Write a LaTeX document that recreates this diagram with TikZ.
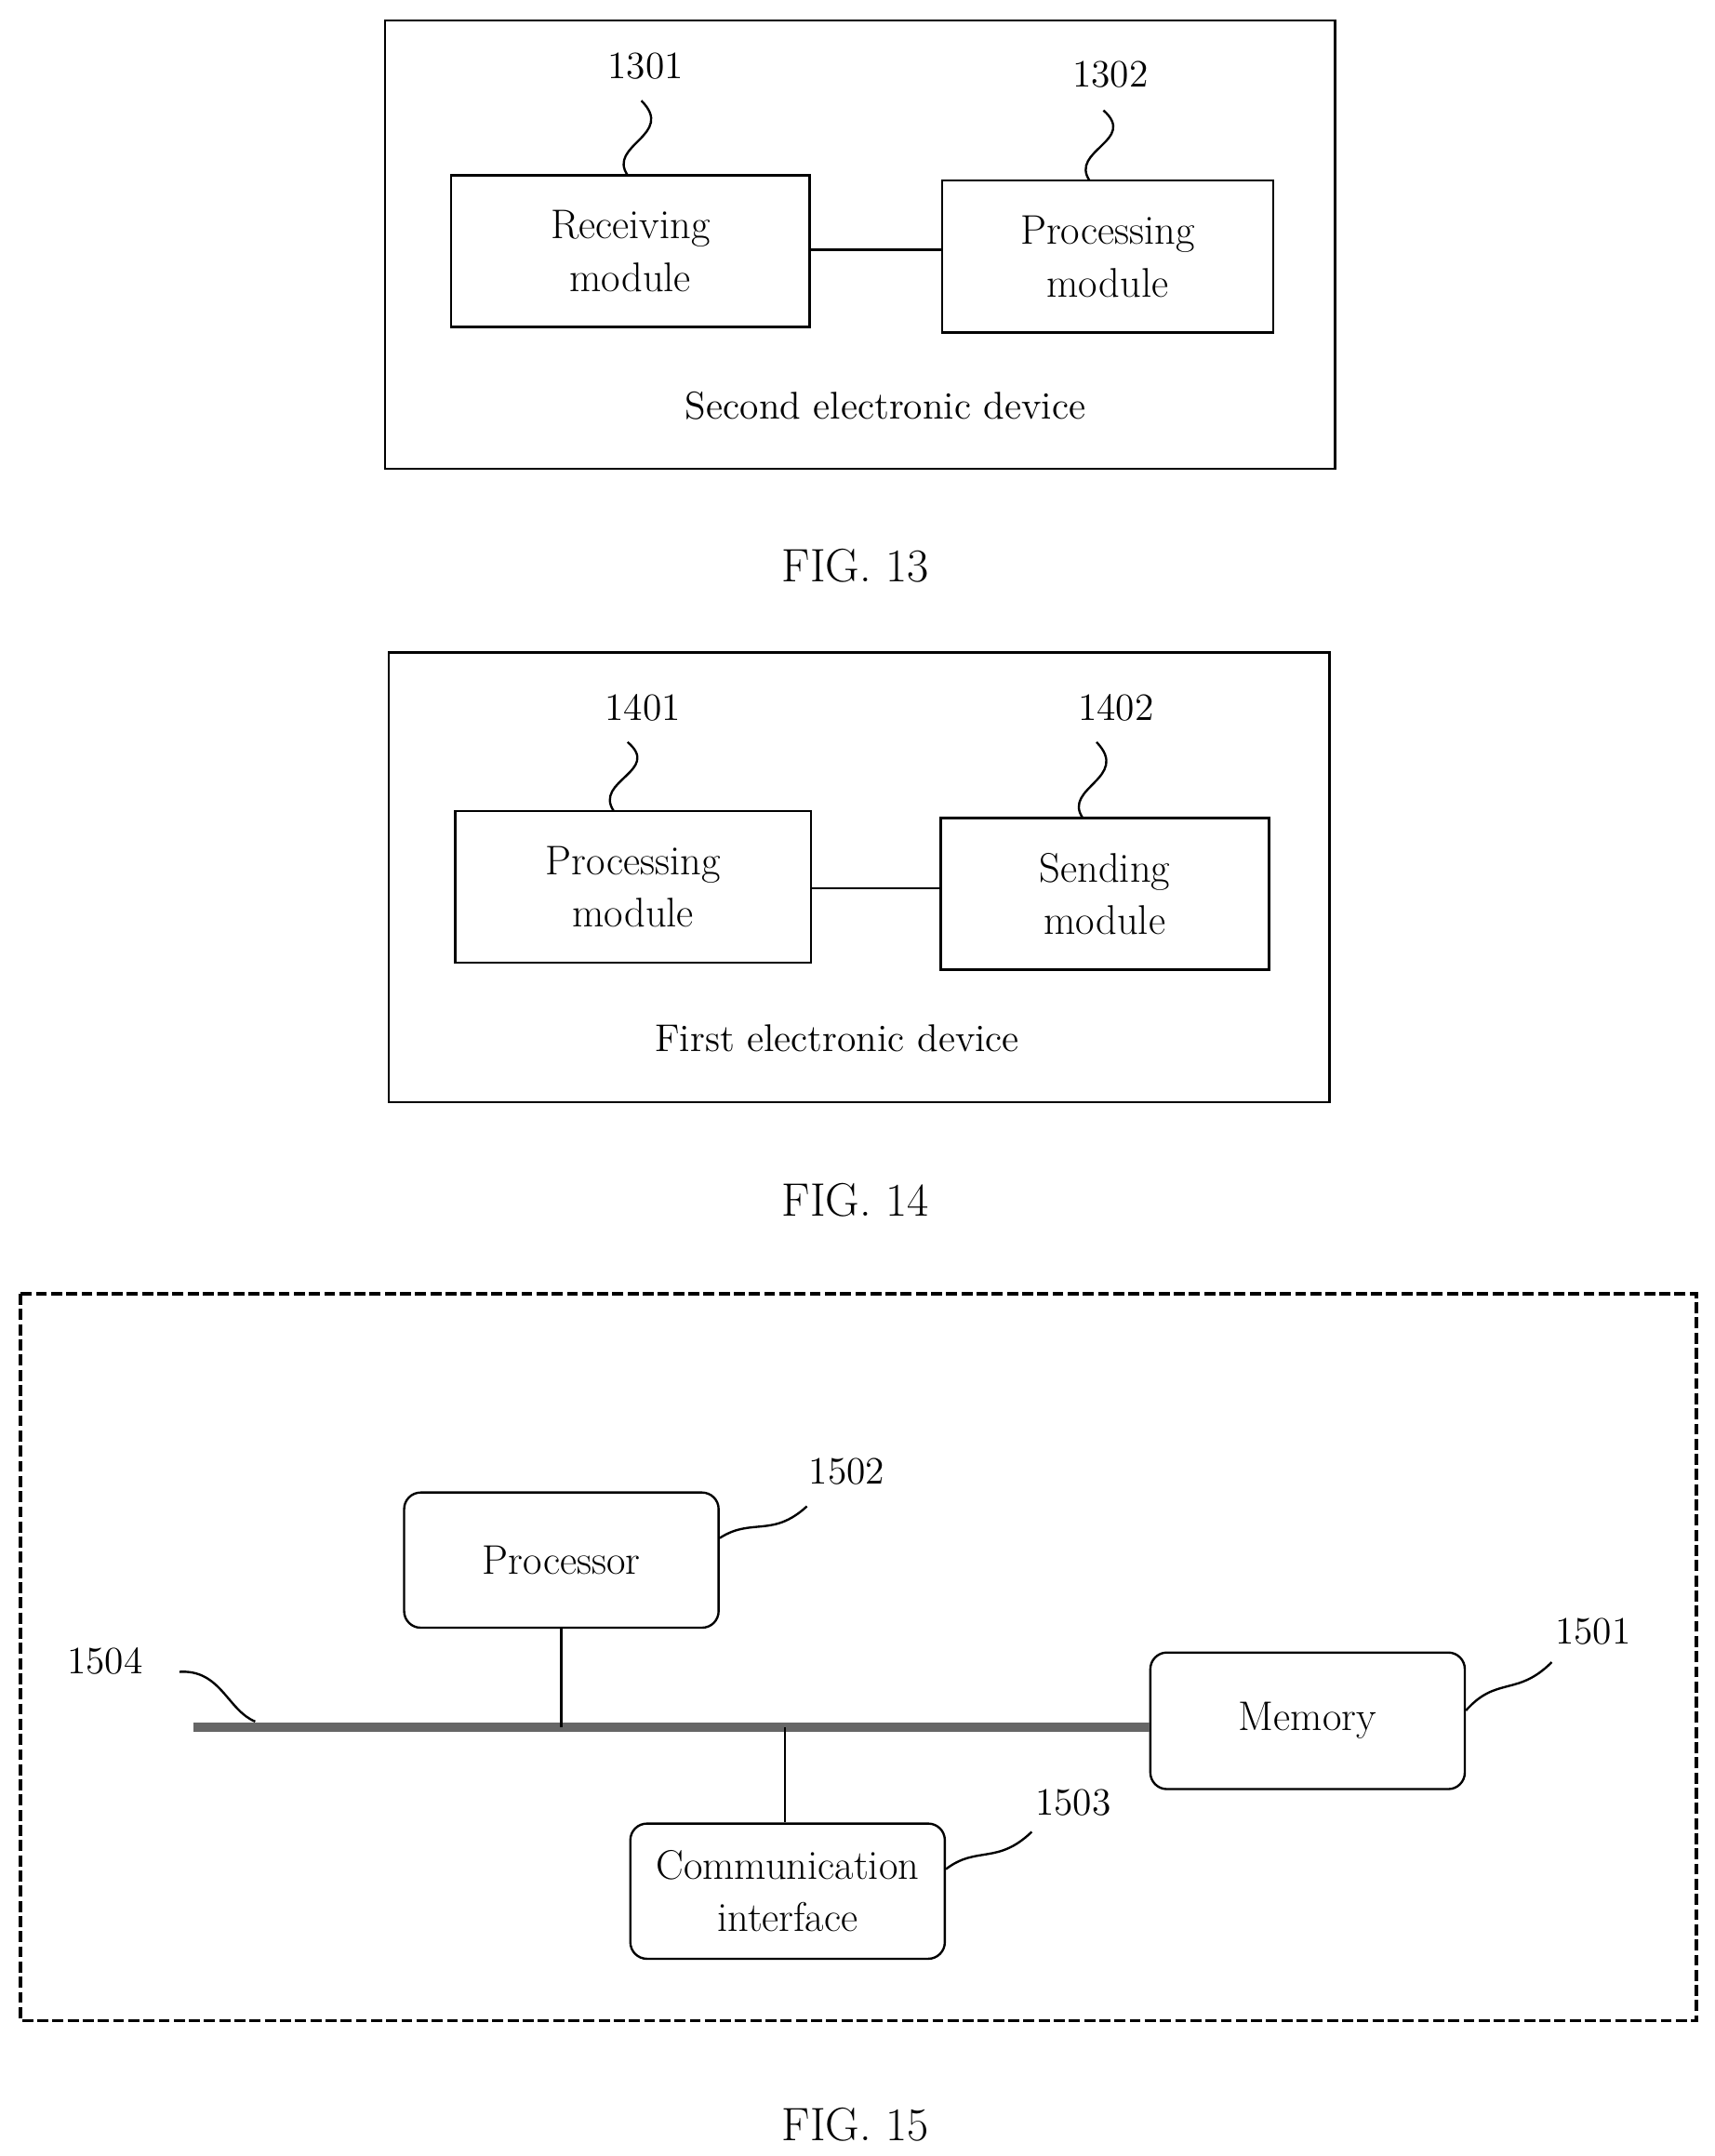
\documentclass[tikz,border=0pt]{standalone}
\usepackage{tikz}
\usetikzlibrary{shapes,arrows,positioning}
\tikzstyle{module} = [rectangle, draw, line width=0.8pt, align=center,
    inner sep=0pt, font=\fontsize{15}{19}\selectfont]
\tikzstyle{unit} = [rectangle, draw, line width=0.8pt, rounded corners=6pt, align=center,
    inner sep=0pt, font=\fontsize{15}{19}\selectfont]
\tikzstyle{device} = [rectangle, draw, line width=0.8pt, inner sep=0pt]
\tikzstyle{tag} = [font=\fontsize{14}{17}\selectfont]
\tikzstyle{caption} = [font=\fontsize{17}{20}\selectfont]
\tikzstyle{wire} = [line width=0.8pt]
\tikzstyle{squig} = [line width=0.8pt]

\begin{document}
\begin{tikzpicture}[x=0.5pt, y=-0.5pt]
    \useasboundingbox (0,0) rectangle (1243,1563);
    % FIG. 13
    \node [device, minimum width=344.5pt, minimum height=162.5pt] (Dev2) at (623.5,177.5) {};
    \node [module, minimum width=130pt, minimum height=55pt] (Recv) at (457,182) {Receiving\\module};
    \node [module, minimum width=120pt, minimum height=55pt] (Proc2) at (803,186) {Processing\\module};
    \node [tag] (T1301) at (468,48) {1301};
    \node [tag] (T1302) at (805,54) {1302};
    \node [tag] at (642,294) {Second electronic device};
    \node [caption] at (620,410) {FIG. 13};
    \draw [wire] (Recv.east |- 0,181) -- (Proc2.west |- 0,181);
    \draw [squig] (455,127) .. controls (440,105) and (490,98) .. (465,73);
    \draw [squig] (790,131) .. controls (775,109) and (825,102) .. (800,80);

    % FIG. 14
    \node [device, minimum width=341pt, minimum height=163pt] (Dev1) at (623,636) {};
    \node [module, minimum width=129pt, minimum height=55pt] (Proc1) at (459,643) {Processing\\module};
    \node [module, minimum width=119pt, minimum height=55pt] (Send) at (801,648) {Sending\\module};
    \node [tag] (T1401) at (466,513) {1401};
    \node [tag] (T1402) at (809,513) {1402};
    \node [tag] at (607,753) {First electronic device};
    \node [caption] at (620,870) {FIG. 14};
    \draw [wire] (Proc1.east |- 0,644) -- (Send.west |- 0,644);
    \draw [squig] (445,588) .. controls (430,566) and (480,559) .. (455,538);
    \draw [squig] (785,593) .. controls (770,571) and (820,564) .. (795,538);

    % FIG. 15
    \draw [line width=1.2pt, dash pattern=on 4pt off 1.5pt] (15,938) rectangle (1230,1465);
    \node [unit, minimum width=114pt, minimum height=49pt] (Cpu) at (407,1131) {Processor};
    \node [unit, minimum width=114pt, minimum height=49.5pt] (Mem) at (948,1247.5) {Memory};
    \node [unit, minimum width=114pt, minimum height=49pt] (Comm) at (571,1371) {Communication\\interface};
    \coordinate (BusL) at (140,1252);
    \node [tag] (T1502) at (614,1067) {1502};
    \node [tag] (T1501) at (1155,1183) {1501};
    \node [tag] (T1503) at (778,1307) {1503};
    \node [tag] (T1504) at (76,1204) {1504};
    \node [caption] at (620,1540) {FIG. 15};
    \draw [line width=3.5pt, gray!80!black] (BusL) -- (Mem.west |- BusL);
    \draw [wire] (Cpu.south) -- (Cpu.south |- BusL);
    \draw [wire] (Comm.north -| 569,0) -- (569,1252);
    \draw [squig] (Cpu.east |- 0,1115) .. controls (545,1100) and (560,1115) .. (585,1092);
    \draw [squig] (Mem.east |- 0,1240) .. controls (1085,1215) and (1100,1230) .. (1125,1205);
    \draw [squig] (Comm.east |- 0,1355) .. controls (708,1338) and (723,1352) .. (748,1328);
    \draw [squig] (130,1212) .. controls (160,1210) and (165,1240) .. (185,1248);
\end{tikzpicture}
\end{document}
